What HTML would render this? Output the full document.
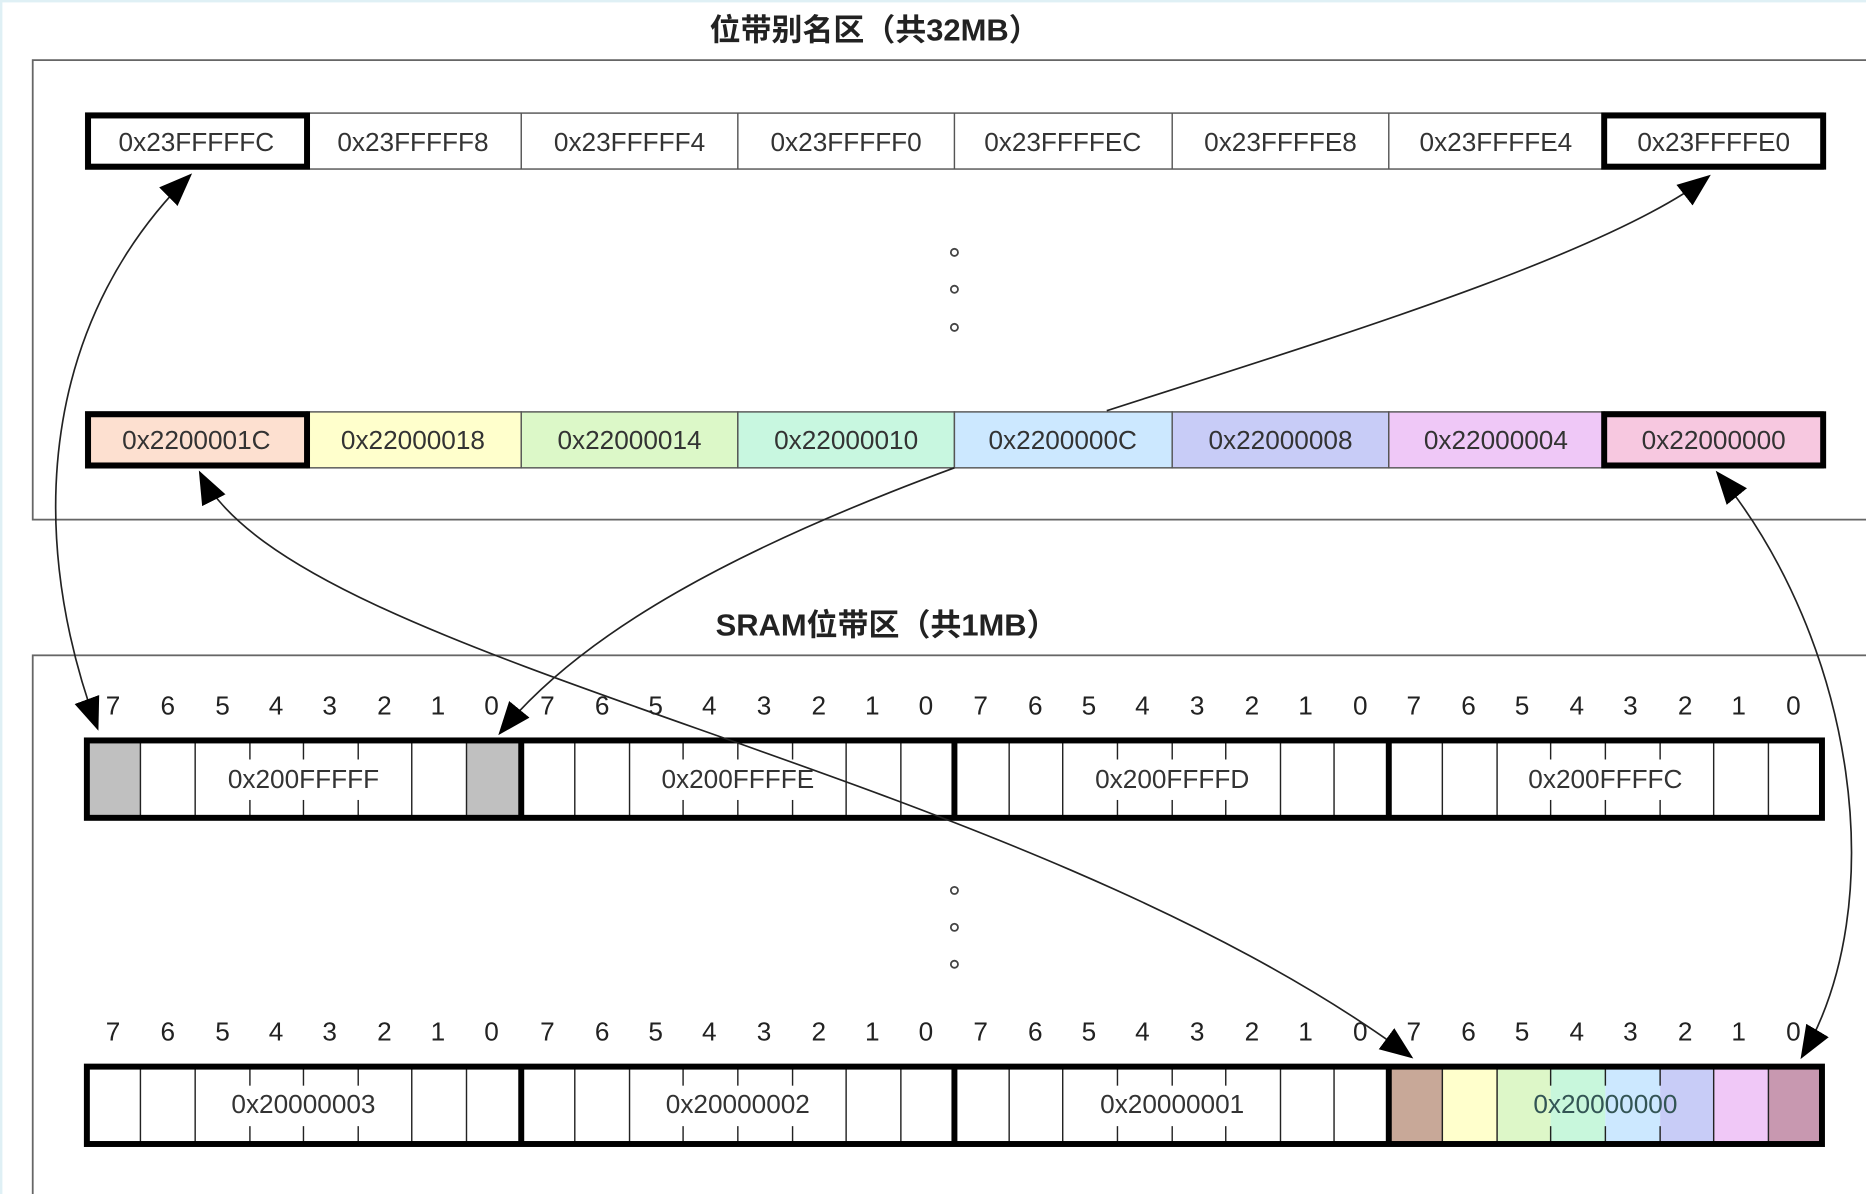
<!DOCTYPE html>
<html><head><meta charset="utf-8"><style>
html,body{margin:0;padding:0;background:#fff;}
svg{display:block;}
text{font-family:"Liberation Sans","Noto Sans CJK SC",sans-serif;}
</style></head><body>
<svg width="1866" height="1194" viewBox="0 0 1568 1003" preserveAspectRatio="none" xmlns="http://www.w3.org/2000/svg">
<defs>
<marker id="ah" markerUnits="userSpaceOnUse" markerWidth="30" markerHeight="24" refX="26" refY="11" orient="auto-start-reverse" viewBox="0 0 30 22">
<path d="M0,0 L28,11 L0,22 Z" fill="#000"/>
</marker>
</defs>
<rect x="0" y="0" width="1568" height="1003" fill="#fff"/>
<rect x="0" y="0" width="1568" height="2" fill="#dff0f5"/>
<rect x="0" y="0" width="2" height="1003" fill="#dff0f5"/>

<text x="735" y="34" font-size="26" font-weight="bold" text-anchor="middle" fill="#222">位带别名区（共32MB）</text>
<rect x="27.5" y="50.5" width="1545" height="386" fill="none" stroke="#666" stroke-width="1.5"/>

<g font-size="22" fill="#333" text-anchor="middle">
<g stroke="#555" stroke-width="1.2">
<rect x="72" y="95" width="1460" height="47" fill="#fff"/>
<line x1="438" y1="95" x2="438" y2="142"/><line x1="620" y1="95" x2="620" y2="142"/>
<line x1="802" y1="95" x2="802" y2="142"/><line x1="985" y1="95" x2="985" y2="142"/>
<line x1="1167" y1="95" x2="1167" y2="142"/>
</g>
<rect x="74" y="97" width="184" height="43" fill="none" stroke="#000" stroke-width="5"/>
<rect x="1348" y="97" width="184" height="43" fill="none" stroke="#000" stroke-width="5"/>
<text x="165" y="127">0x23FFFFFC</text><text x="347" y="127">0x23FFFFF8</text>
<text x="529" y="127">0x23FFFFF4</text><text x="711" y="127">0x23FFFFF0</text>
<text x="893" y="127">0x23FFFFEC</text><text x="1076" y="127">0x23FFFFE8</text>
<text x="1257" y="127">0x23FFFFE4</text><text x="1440" y="127">0x23FFFFE0</text>

<g fill="none" stroke="#444" stroke-width="1.5"><circle cx="802" cy="212" r="3"/><circle cx="802" cy="243" r="3"/><circle cx="802" cy="275" r="3"/></g>

<g stroke="#555" stroke-width="1.2">
<rect x="72" y="346" width="186" height="47" fill="#fde0d0"/>
<rect x="258" y="346" width="180" height="47" fill="#ffffcc"/>
<rect x="438" y="346" width="182" height="47" fill="#dcf8c8"/>
<rect x="620" y="346" width="182" height="47" fill="#c8f7e0"/>
<rect x="802" y="346" width="183" height="47" fill="#cce8ff"/>
<rect x="985" y="346" width="182" height="47" fill="#c8ccf7"/>
<rect x="1167" y="346" width="181" height="47" fill="#efc8f7"/>
<rect x="1348" y="346" width="184" height="47" fill="#f7c8e0"/>
</g>
<rect x="74" y="348" width="184" height="43" fill="none" stroke="#000" stroke-width="5"/>
<rect x="1348" y="348" width="184" height="43" fill="none" stroke="#000" stroke-width="5"/>
<text x="165" y="377">0x2200001C</text><text x="347" y="377">0x22000018</text>
<text x="529" y="377">0x22000014</text><text x="711" y="377">0x22000010</text>
<text x="893" y="377">0x2200000C</text><text x="1076" y="377">0x22000008</text>
<text x="1257" y="377">0x22000004</text><text x="1440" y="377">0x22000000</text>
</g>

<text x="745" y="534" font-size="26" font-weight="bold" text-anchor="middle" fill="#222">SRAM位带区（共1MB）</text>
<rect x="27.5" y="550.5" width="1545" height="460" fill="none" stroke="#666" stroke-width="1.5"/>

<g font-size="22" fill="#222" text-anchor="middle" id="bn">
<text x="95" y="600">7</text><text x="141" y="600">6</text><text x="187" y="600">5</text><text x="232" y="600">4</text><text x="277" y="600">3</text><text x="323" y="600">2</text><text x="368" y="600">1</text><text x="413" y="600">0</text>
<text x="460" y="600">7</text><text x="506" y="600">6</text><text x="551" y="600">5</text><text x="596" y="600">4</text><text x="642" y="600">3</text><text x="688" y="600">2</text><text x="733" y="600">1</text><text x="778" y="600">0</text>
<text x="824" y="600">7</text><text x="870" y="600">6</text><text x="915" y="600">5</text><text x="960" y="600">4</text><text x="1006" y="600">3</text><text x="1052" y="600">2</text><text x="1097" y="600">1</text><text x="1143" y="600">0</text>
<text x="1188" y="600">7</text><text x="1234" y="600">6</text><text x="1279" y="600">5</text><text x="1325" y="600">4</text><text x="1370" y="600">3</text><text x="1416" y="600">2</text><text x="1461" y="600">1</text><text x="1507" y="600">0</text>
</g>
<use href="#bn" y="274"/>

<rect x="74" y="622" width="44" height="64" fill="#c0c0c0"/>
<rect x="392" y="622" width="45" height="64" fill="#c0c0c0"/>
<g stroke="#222" stroke-width="1.2" id="bl1">
<line x1="118" y1="622" x2="118" y2="686"/><line x1="164" y1="622" x2="164" y2="686"/>
<line x1="210" y1="622" x2="210" y2="638"/><line x1="210" y1="672" x2="210" y2="686"/>
<line x1="255" y1="622" x2="255" y2="638"/><line x1="255" y1="672" x2="255" y2="686"/>
<line x1="301" y1="622" x2="301" y2="638"/><line x1="301" y1="672" x2="301" y2="686"/>
<line x1="346" y1="622" x2="346" y2="686"/><line x1="392" y1="622" x2="392" y2="686"/>
<line x1="483" y1="622" x2="483" y2="686"/><line x1="529" y1="622" x2="529" y2="686"/>
<line x1="574" y1="622" x2="574" y2="638"/><line x1="574" y1="672" x2="574" y2="686"/>
<line x1="620" y1="622" x2="620" y2="638"/><line x1="620" y1="672" x2="620" y2="686"/>
<line x1="666" y1="622" x2="666" y2="638"/><line x1="666" y1="672" x2="666" y2="686"/>
<line x1="711" y1="622" x2="711" y2="686"/><line x1="757" y1="622" x2="757" y2="686"/>
<line x1="848" y1="622" x2="848" y2="686"/><line x1="893" y1="622" x2="893" y2="686"/>
<line x1="939" y1="622" x2="939" y2="638"/><line x1="939" y1="672" x2="939" y2="686"/>
<line x1="985" y1="622" x2="985" y2="638"/><line x1="985" y1="672" x2="985" y2="686"/>
<line x1="1030" y1="622" x2="1030" y2="638"/><line x1="1030" y1="672" x2="1030" y2="686"/>
<line x1="1076" y1="622" x2="1076" y2="686"/><line x1="1121" y1="622" x2="1121" y2="686"/>
<line x1="1212" y1="622" x2="1212" y2="686"/><line x1="1258" y1="622" x2="1258" y2="686"/>
<line x1="1303" y1="622" x2="1303" y2="638"/><line x1="1303" y1="672" x2="1303" y2="686"/>
<line x1="1349" y1="622" x2="1349" y2="638"/><line x1="1349" y1="672" x2="1349" y2="686"/>
<line x1="1395" y1="622" x2="1395" y2="638"/><line x1="1395" y1="672" x2="1395" y2="686"/>
<line x1="1440" y1="622" x2="1440" y2="686"/><line x1="1486" y1="622" x2="1486" y2="686"/>
</g>
<g stroke="#000" stroke-width="5" fill="none">
<rect x="73" y="622" width="1458" height="65"/>
<line x1="438" y1="622" x2="438" y2="687"/><line x1="802" y1="622" x2="802" y2="687"/><line x1="1167" y1="622" x2="1167" y2="687"/>
</g>
<g font-size="22" fill="#333" text-anchor="middle">
<text x="255" y="662">0x200FFFFF</text><text x="620" y="662">0x200FFFFE</text>
<text x="985" y="662">0x200FFFFD</text><text x="1349" y="662">0x200FFFFC</text>
</g>

<g fill="none" stroke="#444" stroke-width="1.5"><circle cx="802" cy="748" r="3"/><circle cx="802" cy="779" r="3"/><circle cx="802" cy="810" r="3"/></g>

<rect x="1169" y="896" width="43" height="65" fill="#c8a898"/>
<rect x="1212" y="896" width="46" height="65" fill="#ffffcc"/>
<rect x="1258" y="896" width="45" height="65" fill="#ddf7c8"/>
<rect x="1303" y="896" width="46" height="65" fill="#c8f7dc"/>
<rect x="1349" y="896" width="46" height="65" fill="#cce8ff"/>
<rect x="1395" y="896" width="45" height="65" fill="#c8ccf7"/>
<rect x="1440" y="896" width="46" height="65" fill="#f0c8f7"/>
<rect x="1486" y="896" width="44" height="65" fill="#c898b0"/>
<use href="#bl1" y="274"/>
<g stroke="#000" stroke-width="5" fill="none">
<rect x="73" y="896" width="1458" height="65"/>
<line x1="438" y1="896" x2="438" y2="961"/><line x1="802" y1="896" x2="802" y2="961"/><line x1="1167" y1="896" x2="1167" y2="961"/>
</g>
<g font-size="22" fill="#333" text-anchor="middle">
<text x="255" y="935">0x20000003</text><text x="620" y="935">0x20000002</text>
<text x="985" y="935">0x20000001</text><text x="1349" y="935" fill="#355">0x20000000</text>
</g>

<g fill="none" stroke="#222" stroke-width="1.4">
<path d="M82 612 C15 430, 45 260, 160 147" marker-start="url(#ah)" marker-end="url(#ah)"/>
<path d="M802 393 C620 460, 490 530, 420 616" marker-end="url(#ah)"/>
<path d="M930 345 C1100 290, 1350 215, 1436 148" marker-end="url(#ah)"/>
<path d="M168 397 C250 560, 850 640, 1186 888" marker-start="url(#ah)" marker-end="url(#ah)"/>
<path d="M1443 397 C1560 540, 1590 760, 1514 888" marker-start="url(#ah)" marker-end="url(#ah)"/>
</g>
</svg>
</body></html>
